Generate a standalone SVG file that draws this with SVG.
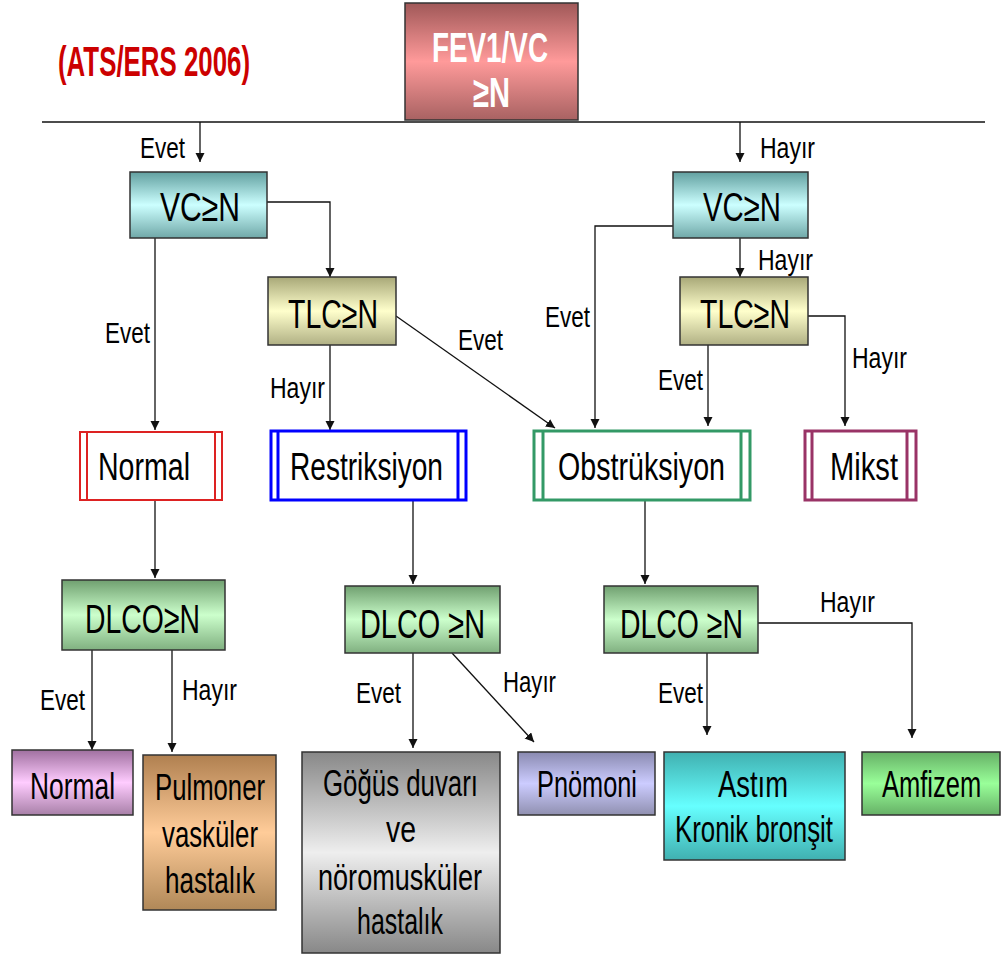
<svg xmlns="http://www.w3.org/2000/svg" width="1003" height="956" viewBox="0 0 1003 956">
<defs>
<style>
.t{font-family:"Liberation Sans",Arial,sans-serif;fill:#000;}
.big{font-size:41px;}
.sh{font-size:38px;}
.mid{font-size:37px;}
.lab{font-size:30px;}
.box{stroke:#333;stroke-width:1.5;}
.c{fill:none;stroke:#111;stroke-width:1.3;}
</style>
<marker id="ah" markerUnits="userSpaceOnUse" markerWidth="10" markerHeight="10" refX="9" refY="4.5" orient="auto">
<path d="M0,0 L9,4.5 L0,9 z" fill="#111"/>
</marker>
<linearGradient id="gFev" x1="0" y1="0" x2="0" y2="1"><stop offset="0" stop-color="#a05858"/><stop offset="0.5" stop-color="#ff9a9a"/><stop offset="1" stop-color="#a86262"/></linearGradient>
<linearGradient id="gVc" x1="0" y1="0" x2="0" y2="1"><stop offset="0" stop-color="#62a0a0"/><stop offset="0.5" stop-color="#ccffff"/><stop offset="1" stop-color="#70a8a8"/></linearGradient>
<linearGradient id="gTlc" x1="0" y1="0" x2="0" y2="1"><stop offset="0" stop-color="#a8a878"/><stop offset="0.5" stop-color="#ffffcc"/><stop offset="1" stop-color="#b0b084"/></linearGradient>
<linearGradient id="gDl" x1="0" y1="0" x2="0" y2="1"><stop offset="0" stop-color="#70a070"/><stop offset="0.5" stop-color="#ccffcc"/><stop offset="1" stop-color="#80b080"/></linearGradient>
<linearGradient id="gPur" x1="0" y1="0" x2="0" y2="1"><stop offset="0" stop-color="#a070a0"/><stop offset="0.5" stop-color="#ffccff"/><stop offset="1" stop-color="#a880a8"/></linearGradient>
<linearGradient id="gOr" x1="0" y1="0" x2="0" y2="1"><stop offset="0" stop-color="#b08050"/><stop offset="0.5" stop-color="#ffcc99"/><stop offset="1" stop-color="#b08858"/></linearGradient>
<linearGradient id="gGr" x1="0" y1="0" x2="0" y2="1"><stop offset="0" stop-color="#888888"/><stop offset="0.5" stop-color="#eeeeee"/><stop offset="1" stop-color="#888888"/></linearGradient>
<linearGradient id="gLav" x1="0" y1="0" x2="0" y2="1"><stop offset="0" stop-color="#8a8ab0"/><stop offset="0.5" stop-color="#ccccff"/><stop offset="1" stop-color="#9090b0"/></linearGradient>
<linearGradient id="gCy" x1="0" y1="0" x2="0" y2="1"><stop offset="0" stop-color="#40b0b0"/><stop offset="0.5" stop-color="#66ffff"/><stop offset="1" stop-color="#40b0b0"/></linearGradient>
<linearGradient id="gAm" x1="0" y1="0" x2="0" y2="1"><stop offset="0" stop-color="#66b066"/><stop offset="0.5" stop-color="#99ff99"/><stop offset="1" stop-color="#66b066"/></linearGradient>
</defs>
<rect width="1003" height="956" fill="#fff"/>

<text class="t" x="58" y="76" font-size="42" font-weight="bold" style="fill:#cc0000" textLength="192" lengthAdjust="spacingAndGlyphs">(ATS/ERS 2006)</text>

<g id="connectors">
<path class="c" d="M42,122 H985"/>
<path class="c" d="M200,122 V162" marker-end="url(#ah)"/>
<path class="c" d="M740,122 V162" marker-end="url(#ah)"/>
<path class="c" d="M267,202 H330 V277" marker-end="url(#ah)"/>
<path class="c" d="M155,238 V430" marker-end="url(#ah)"/>
<path class="c" d="M330,345 V430" marker-end="url(#ah)"/>
<path class="c" d="M396,316 L555,428" marker-end="url(#ah)"/>
<path class="c" d="M673,226 H595 V428" marker-end="url(#ah)"/>
<path class="c" d="M740,238 V277" marker-end="url(#ah)"/>
<path class="c" d="M808,316 H845 V426" marker-end="url(#ah)"/>
<path class="c" d="M708,345 V426" marker-end="url(#ah)"/>
<path class="c" d="M155,500 V578" marker-end="url(#ah)"/>
<path class="c" d="M413,500 V584" marker-end="url(#ah)"/>
<path class="c" d="M645,500 V584" marker-end="url(#ah)"/>
<path class="c" d="M92,650 V750" marker-end="url(#ah)"/>
<path class="c" d="M172,650 V752" marker-end="url(#ah)"/>
<path class="c" d="M413,653 V748" marker-end="url(#ah)"/>
<path class="c" d="M452,653 L534,742" marker-end="url(#ah)"/>
<path class="c" d="M707,653 V735" marker-end="url(#ah)"/>
<path class="c" d="M758,623 H912 V738" marker-end="url(#ah)"/>
<text class="t lab" x="140" y="158" textLength="45" lengthAdjust="spacingAndGlyphs">Evet</text>
<text class="t lab" x="760" y="158" textLength="55" lengthAdjust="spacingAndGlyphs">Hayır</text>
<text class="t lab" x="105" y="343" textLength="45" lengthAdjust="spacingAndGlyphs">Evet</text>
<text class="t lab" x="758" y="270" textLength="55" lengthAdjust="spacingAndGlyphs">Hayır</text>
<text class="t lab" x="270" y="398" textLength="55" lengthAdjust="spacingAndGlyphs">Hayır</text>
<text class="t lab" x="458" y="350" textLength="45" lengthAdjust="spacingAndGlyphs">Evet</text>
<text class="t lab" x="545" y="327" textLength="45" lengthAdjust="spacingAndGlyphs">Evet</text>
<text class="t lab" x="658" y="390" textLength="45" lengthAdjust="spacingAndGlyphs">Evet</text>
<text class="t lab" x="852" y="368" textLength="55" lengthAdjust="spacingAndGlyphs">Hayır</text>
<text class="t lab" x="40" y="710" textLength="45" lengthAdjust="spacingAndGlyphs">Evet</text>
<text class="t lab" x="182" y="700" textLength="55" lengthAdjust="spacingAndGlyphs">Hayır</text>
<text class="t lab" x="356" y="703" textLength="45" lengthAdjust="spacingAndGlyphs">Evet</text>
<text class="t lab" x="503" y="692" textLength="53" lengthAdjust="spacingAndGlyphs">Hayır</text>
<text class="t lab" x="658" y="703" textLength="45" lengthAdjust="spacingAndGlyphs">Evet</text>
<text class="t lab" x="820" y="612" textLength="55" lengthAdjust="spacingAndGlyphs">Hayır</text>
</g>

<g id="fev">
<rect class="box" x="405" y="3" width="173" height="117" fill="url(#gFev)"/>
<text class="t" x="432" y="62" font-size="43" font-weight="bold" style="fill:#fff" textLength="116" lengthAdjust="spacingAndGlyphs">FEV1/VC</text>
<text class="t" x="473" y="107" font-size="43" font-weight="bold" style="fill:#fff" textLength="37" lengthAdjust="spacingAndGlyphs">≥N</text>
</g>

<g id="vc-left">
<rect class="box" x="130" y="172" width="137" height="66" fill="url(#gVc)"/>
<text class="t big" x="160" y="221" textLength="80" lengthAdjust="spacingAndGlyphs">VC≥N</text>
</g>
<g id="vc-right">
<rect class="box" x="673" y="172" width="135" height="66" fill="url(#gVc)"/>
<text class="t big" x="703" y="221" textLength="78" lengthAdjust="spacingAndGlyphs">VC≥N</text>
</g>
<g id="tlc-left">
<rect class="box" x="268" y="277" width="128" height="68" fill="url(#gTlc)"/>
<text class="t big" x="288" y="328" textLength="90" lengthAdjust="spacingAndGlyphs">TLC≥N</text>
</g>
<g id="tlc-right">
<rect class="box" x="680" y="277" width="128" height="68" fill="url(#gTlc)"/>
<text class="t big" x="700" y="328" textLength="90" lengthAdjust="spacingAndGlyphs">TLC≥N</text>
</g>

<g id="normal-mid">
<rect x="80" y="432" width="142" height="68" fill="#fff" stroke="#dd2222" stroke-width="2"/>
<path d="M87,432 V500 M215,432 V500" stroke="#dd2222" stroke-width="2"/>
<text class="t sh" x="98" y="480" textLength="92" lengthAdjust="spacingAndGlyphs">Normal</text>
</g>
<g id="restriksiyon">
<rect x="271" y="431" width="195" height="69" fill="#fff" stroke="#0000ff" stroke-width="3"/>
<path d="M278,431 V500 M458,431 V500" stroke="#0000ff" stroke-width="3"/>
<text class="t sh" x="290" y="480" textLength="153" lengthAdjust="spacingAndGlyphs">Restriksiyon</text>
</g>
<g id="obstruksiyon">
<rect x="534" y="431" width="216" height="69" fill="#fff" stroke="#339966" stroke-width="3"/>
<path d="M543,431 V500 M741,431 V500" stroke="#339966" stroke-width="3"/>
<text class="t sh" x="558" y="480" textLength="167" lengthAdjust="spacingAndGlyphs">Obstrüksiyon</text>
</g>
<g id="mikst">
<rect x="805" y="431" width="111" height="69" fill="#fff" stroke="#993366" stroke-width="3"/>
<path d="M812,431 V500 M907,431 V500" stroke="#993366" stroke-width="3"/>
<text class="t sh" x="830" y="480" textLength="68" lengthAdjust="spacingAndGlyphs">Mikst</text>
</g>

<g id="dlco-left">
<rect class="box" x="62" y="580" width="163" height="70" fill="url(#gDl)"/>
<text class="t big" x="85" y="633" textLength="115" lengthAdjust="spacingAndGlyphs">DLCO≥N</text>
</g>
<g id="dlco-mid">
<rect class="box" x="345" y="586" width="155" height="67" fill="url(#gDl)"/>
<text class="t big" x="360" y="638" textLength="125" lengthAdjust="spacingAndGlyphs">DLCO ≥N</text>
</g>
<g id="dlco-right">
<rect class="box" x="604" y="586" width="154" height="67" fill="url(#gDl)"/>
<text class="t big" x="620" y="638" textLength="123" lengthAdjust="spacingAndGlyphs">DLCO ≥N</text>
</g>

<g id="normal-bottom">
<rect class="box" x="12" y="750" width="121" height="65" fill="url(#gPur)"/>
<text class="t mid" x="30" y="799" textLength="85" lengthAdjust="spacingAndGlyphs">Normal</text>
</g>
<g id="pulmoner">
<rect class="box" x="143" y="755" width="133" height="155" fill="url(#gOr)"/>
<text class="t mid" x="155" y="800" textLength="110" lengthAdjust="spacingAndGlyphs">Pulmoner</text>
<text class="t mid" x="162" y="847" textLength="96" lengthAdjust="spacingAndGlyphs">vasküler</text>
<text class="t mid" x="165" y="893" textLength="90" lengthAdjust="spacingAndGlyphs">hastalık</text>
</g>
<g id="gogus">
<rect class="box" x="302" y="752" width="198" height="201" fill="url(#gGr)"/>
<text class="t mid" x="323" y="796" textLength="155" lengthAdjust="spacingAndGlyphs">Göğüs duvarı</text>
<text class="t mid" x="386" y="842" textLength="30" lengthAdjust="spacingAndGlyphs">ve</text>
<text class="t mid" x="318" y="890" textLength="164" lengthAdjust="spacingAndGlyphs">nöromusküler</text>
<text class="t mid" x="357" y="934" textLength="86" lengthAdjust="spacingAndGlyphs">hastalık</text>
</g>
<g id="pnomoni">
<rect class="box" x="518" y="752" width="137" height="63" fill="url(#gLav)"/>
<text class="t mid" x="537" y="797" textLength="100" lengthAdjust="spacingAndGlyphs">Pnömoni</text>
</g>
<g id="astim">
<rect class="box" x="664" y="752" width="181" height="108" fill="url(#gCy)"/>
<text class="t mid" x="718" y="797" textLength="70" lengthAdjust="spacingAndGlyphs">Astım</text>
<text class="t mid" x="675" y="842" textLength="158" lengthAdjust="spacingAndGlyphs">Kronik bronşit</text>
</g>
<g id="amfizem">
<rect class="box" x="862" y="752" width="138" height="63" fill="url(#gAm)"/>
<text class="t mid" transform="translate(882,797) scale(0.69,1)" x="0" y="0">Amfizem</text>
</g>
</svg>
